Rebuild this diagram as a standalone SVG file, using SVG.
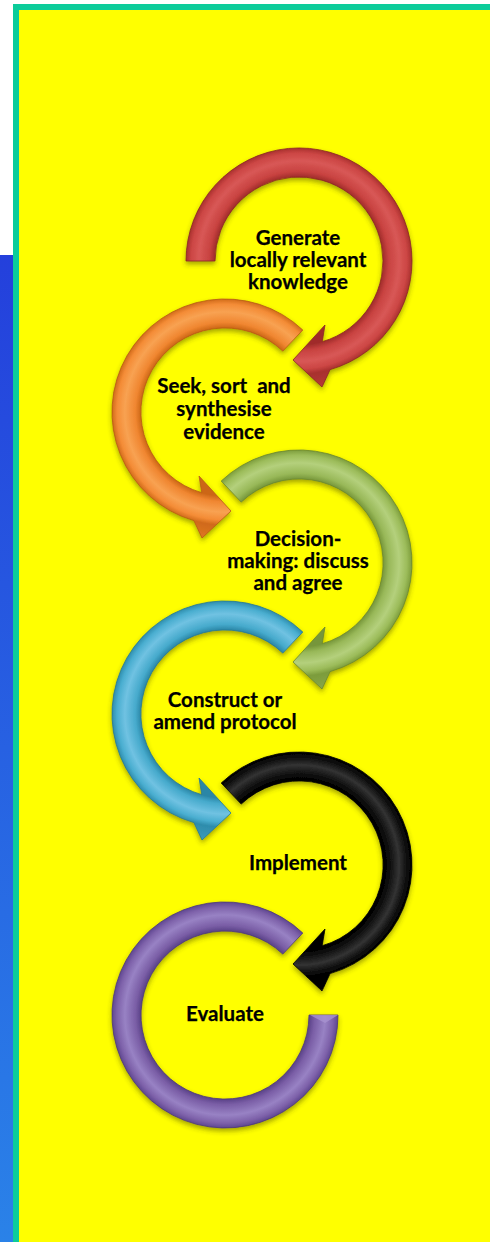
<svg xmlns="http://www.w3.org/2000/svg" xmlns:xlink="http://www.w3.org/1999/xlink" width="490" height="1242" viewBox="0 0 490 1242">
  <style>
    .lbl { font-family: Lato, "Liberation Sans", sans-serif; font-weight: 700; font-size: 20.5px; fill: #000; text-anchor: middle; stroke: #000; stroke-width: 0.25px; }
    .arrow { filter: url(#shadow); stroke-width: 0.8; }
  </style>
  <defs>
    <linearGradient id="strip" x1="0" y1="0" x2="0" y2="1">
      <stop offset="0" stop-color="#2440dc"/>
      <stop offset="1" stop-color="#2a82e8"/>
    </linearGradient>
    <filter id="shadow" x="-20%" y="-20%" width="140%" height="140%">
      <feDropShadow dx="0" dy="3" stdDeviation="2.5" flood-color="#3a3a00" flood-opacity="0.45"/>
    </filter>
    <!-- bevel shading across the ring width, centred on each arrow's own origin -->
    <radialGradient id="g-red" gradientUnits="userSpaceOnUse" cx="0" cy="0" r="130">
      <stop offset="0.646" stop-color="#a02c2a"/>
      <stop offset="0.69" stop-color="#c84240"/>
      <stop offset="0.77" stop-color="#d85856"/>
      <stop offset="0.83" stop-color="#cc4644"/>
      <stop offset="0.87" stop-color="#a8302e"/>
      <stop offset="1" stop-color="#b83a38"/>
    </radialGradient>
    <radialGradient id="g-orange" gradientUnits="userSpaceOnUse" cx="0" cy="0" r="130">
      <stop offset="0.646" stop-color="#cc6616"/>
      <stop offset="0.69" stop-color="#f08630"/>
      <stop offset="0.77" stop-color="#f8a252"/>
      <stop offset="0.83" stop-color="#f48c36"/>
      <stop offset="0.87" stop-color="#d06a1a"/>
      <stop offset="1" stop-color="#e07824"/>
    </radialGradient>
    <radialGradient id="g-green" gradientUnits="userSpaceOnUse" cx="0" cy="0" r="130">
      <stop offset="0.646" stop-color="#76963a"/>
      <stop offset="0.69" stop-color="#98b858"/>
      <stop offset="0.77" stop-color="#b4d07c"/>
      <stop offset="0.83" stop-color="#9cbc5a"/>
      <stop offset="0.87" stop-color="#7c9c3c"/>
      <stop offset="1" stop-color="#8aa84a"/>
    </radialGradient>
    <radialGradient id="g-cyan" gradientUnits="userSpaceOnUse" cx="0" cy="0" r="130">
      <stop offset="0.646" stop-color="#2a86a6"/>
      <stop offset="0.69" stop-color="#46aacc"/>
      <stop offset="0.77" stop-color="#70c2e2"/>
      <stop offset="0.83" stop-color="#4aaed0"/>
      <stop offset="0.87" stop-color="#2e8cac"/>
      <stop offset="1" stop-color="#3c9cbc"/>
    </radialGradient>
    <radialGradient id="g-black" gradientUnits="userSpaceOnUse" cx="0" cy="0" r="130">
      <stop offset="0.646" stop-color="#000000"/>
      <stop offset="0.69" stop-color="#0a0a0a"/>
      <stop offset="0.77" stop-color="#333333"/>
      <stop offset="0.83" stop-color="#0e0e0e"/>
      <stop offset="0.87" stop-color="#000000"/>
      <stop offset="1" stop-color="#080808"/>
    </radialGradient>
    <radialGradient id="g-purple" gradientUnits="userSpaceOnUse" cx="0" cy="0" r="130">
      <stop offset="0.646" stop-color="#5a4288"/>
      <stop offset="0.69" stop-color="#7a5ea6"/>
      <stop offset="0.77" stop-color="#9882c4"/>
      <stop offset="0.83" stop-color="#7e62aa"/>
      <stop offset="0.87" stop-color="#5e4690"/>
      <stop offset="1" stop-color="#6c529c"/>
    </radialGradient>
    <!-- circular arrows, drawn around (0,0): outer radius 113, inner 84, clockwise -->
    <path id="arrow-first" d="M -113 0 A 113 113 0 1 1 31.1 108.6 L 23 126 L -6 99 L 26 64 L 23.2 80.7 A 84 84 0 1 0 -84 0 Z"/>
    <path id="arrow-loop" d="M -77.8 -82 A 113 113 0 1 1 31.1 108.6 L 23 126 L -6 99 L 26 64 L 23.2 80.7 A 84 84 0 1 0 -57.8 -60.9 Z"/>
    <path id="arrow-tail" d="M -77.8 -82 A 113 113 0 1 1 -113 0 L -84 0 A 84 84 0 1 0 -57.8 -60.9 Z"/>
  </defs>

  <!-- page background -->
  <rect x="0" y="0" width="490" height="1242" fill="#ffffff"/>
  <rect x="0" y="255" width="14" height="987" fill="url(#strip)"/>
  <rect x="13" y="4" width="477" height="1238" fill="#0ccc9a"/>
  <rect x="19" y="10" width="471" height="1232" fill="#ffff00"/>

  <g id="step-generate">
    <use xlink:href="#arrow-first" href="#arrow-first" class="arrow" transform="translate(299,261)" fill="url(#g-red)" stroke="#8c2624"/>
    <text class="lbl" x="298" y="245">Generate</text>
    <text class="lbl" x="298" y="267">locally relevant</text>
    <text class="lbl" x="298" y="289">knowledge</text>
  </g>

  <g id="step-seek">
    <use xlink:href="#arrow-loop" href="#arrow-loop" class="arrow" transform="translate(225,412) scale(-1,1)" fill="url(#g-orange)" stroke="#b85a14"/>
    <text class="lbl" x="224" y="393" xml:space="preserve">Seek, sort  and</text>
    <text class="lbl" x="224" y="416">synthesise</text>
    <text class="lbl" x="224" y="439">evidence</text>
  </g>

  <g id="step-decide">
    <use xlink:href="#arrow-loop" href="#arrow-loop" class="arrow" transform="translate(299,563)" fill="url(#g-green)" stroke="#6a8630"/>
    <text class="lbl" x="298" y="546">Decision-</text>
    <text class="lbl" x="298" y="568">making: discuss</text>
    <text class="lbl" x="298" y="590">and agree</text>
  </g>

  <g id="step-protocol">
    <use xlink:href="#arrow-loop" href="#arrow-loop" class="arrow" transform="translate(225,714) scale(-1,1)" fill="url(#g-cyan)" stroke="#247894"/>
    <text class="lbl" x="225" y="707">Construct or</text>
    <text class="lbl" x="225" y="729">amend protocol</text>
  </g>

  <g id="step-implement">
    <use xlink:href="#arrow-loop" href="#arrow-loop" class="arrow" transform="translate(299,865)" fill="url(#g-black)" stroke="#000000"/>
    <text class="lbl" x="298" y="870">Implement</text>
  </g>

  <g id="step-evaluate">
    <use xlink:href="#arrow-tail" href="#arrow-tail" class="arrow" transform="translate(225,1015) scale(-1,1)" fill="url(#g-purple)" stroke="#4e3878"/>
    <polygon points="310,1015 338,1015 325,1023" fill="#a892d0" opacity="0.8"/>
    <text class="lbl" x="225" y="1021">Evaluate</text>
  </g>
</svg>
